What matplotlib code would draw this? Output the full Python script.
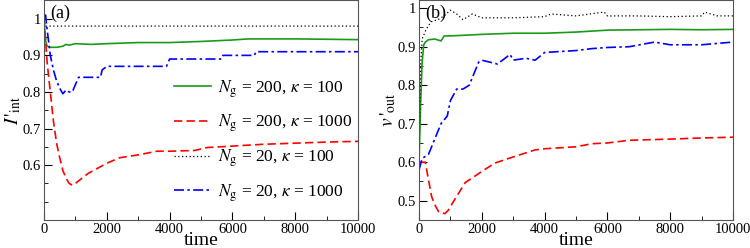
import matplotlib
matplotlib.use("Agg")
import matplotlib.pyplot as plt

plt.rcParams['font.family'] = ['Liberation Serif', 'DejaVu Serif']
plt.rcParams['mathtext.fontset'] = 'stix'

labels = [r"$N_{\rm g}$ = 200, $\kappa$ = 100",
          r"$N_{\rm g}$ = 200, $\kappa$ = 1000",
          r"$N_{\rm g}$ = 20, $\kappa$ = 100",
          r"$N_{\rm g}$ = 20, $\kappa$ = 1000"]

# panel (a): I'_int
a_t1 = [0, 50, 100, 200, 400, 600, 700, 800, 1000, 1500, 2000, 3000, 4000, 5000, 6000, 6500, 8000, 9000, 10000]
a_y1 = [1.0, 0.94, 0.925, 0.922, 0.922, 0.925, 0.93, 0.928, 0.932, 0.93, 0.932, 0.935, 0.935, 0.938, 0.942, 0.945, 0.945, 0.944, 0.943]

a_t2 = [0, 100, 200, 300, 400, 500, 600, 700, 800, 900, 1000, 1400, 2000, 2400, 3000, 3600, 4000, 4800, 5200, 6000, 7000, 8000, 9000, 10000]
a_y2 = [1.0, 0.88, 0.8, 0.72, 0.66, 0.62, 0.585, 0.565, 0.55, 0.545, 0.55, 0.577, 0.605, 0.62, 0.628, 0.638, 0.638, 0.64, 0.648, 0.652, 0.657, 0.66, 0.663, 0.665]

a_t3 = [0, 30, 60, 10000]
a_y3 = [1.0, 0.985, 0.98, 0.98]

a_t4 = [0, 50, 100, 200, 300, 400, 500, 600, 700, 800, 900, 1000, 1100, 1200, 1800, 1850, 2000, 3900, 3950, 4000,
        5650, 5700, 6700, 6750, 10000]
a_y4 = [1.01, 1.01, 0.97, 0.9, 0.86, 0.83, 0.81, 0.795, 0.805, 0.8, 0.8, 0.82, 0.84, 0.84, 0.84, 0.86, 0.87, 0.87, 0.88, 0.89,
        0.89, 0.9, 0.9, 0.91, 0.91]

# panel (b): v'_out
b_t1 = [0, 50, 100, 150, 200, 300, 500, 700, 800, 1000, 2000, 3000, 4000, 5000, 6000, 7000, 8000, 9000, 10000]
b_y1 = [0.6, 0.75, 0.86, 0.905, 0.912, 0.918, 0.92, 0.915, 0.928, 0.928, 0.932, 0.935, 0.935, 0.938, 0.943, 0.944, 0.945, 0.944, 0.945]

b_t2 = [0, 200, 300, 400, 500, 620, 700, 830, 930, 1000, 1470, 2000, 2420, 3050, 3700, 4000, 5000, 5500, 6000, 6700, 8000, 9000, 10000]
b_y2 = [0.6, 0.6, 0.555, 0.511, 0.49, 0.472, 0.468, 0.467, 0.475, 0.485, 0.547, 0.576, 0.598, 0.615, 0.632, 0.635, 0.64, 0.648, 0.65, 0.657, 0.66, 0.663, 0.665]

b_t3 = [0, 50, 100, 200, 300, 400, 600, 800, 1000, 1200, 1400, 1700, 2000, 3000, 4000, 4200, 5000, 5900, 6000, 7000, 8000, 9000, 9100, 9500, 10000]
b_y3 = [0.62, 0.85, 0.92, 0.94, 0.955, 0.965, 0.97, 0.98, 0.995, 0.985, 0.97, 0.985, 0.975, 0.975, 0.978, 0.985, 0.98, 0.99, 0.98, 0.98, 0.978, 0.98, 0.99, 0.98, 0.98]

b_t4 = [0, 100, 300, 400, 550, 700, 900, 1000, 1200, 1400, 1600, 1700, 1900, 2000, 2500, 2900, 3000, 3400, 3700, 4000, 5000, 5500, 6000, 6700, 7500, 8000, 9000, 10000]
b_y4 = [0.58, 0.61, 0.62, 0.64, 0.67, 0.7, 0.72, 0.76, 0.79, 0.79, 0.8, 0.82, 0.86, 0.865, 0.855, 0.88, 0.865, 0.87, 0.865, 0.885, 0.89, 0.895, 0.898, 0.9, 0.912, 0.905, 0.905, 0.912]

styles = [dict(color='#1a9a1a', ls='-', lw=1.2),
          dict(color='red', ls=(0, (5, 2.5)), lw=1.2),
          dict(color='black', ls=(0, (1, 2)), lw=0.9),
          dict(color='blue', ls=(0, (6, 2, 1.5, 2)), lw=1.2)]

fig = plt.figure(figsize=(7.5, 2.48), dpi=100)
ax1 = fig.add_axes([0.0587, 0.113, 0.4186, 0.885])
ax2 = fig.add_axes([0.5587, 0.113, 0.4186, 0.885])

for (t, y), st, lab in zip([(a_t1, a_y1), (a_t2, a_y2), (a_t3, a_y3), (a_t4, a_y4)], styles, labels):
    ax1.plot(t, y, label=lab, **st)
for (t, y), st in zip([(b_t1, b_y1), (b_t2, b_y2), (b_t3, b_y3), (b_t4, b_y4)], styles):
    ax2.plot(t, y, **st)

ax1.set_ylim(0.52, 1.05)
ax2.set_ylim(0.45, 1.02)
ax1.set_yticks([0.6, 0.7, 0.8, 0.9, 1.0], ['0.6', '0.7', '0.8', '0.9', '1'])
ax2.set_yticks([0.5, 0.6, 0.7, 0.8, 0.9, 1.0], ['0.5', '0.6', '0.7', '0.8', '0.9', '1'])
ax1.set_ylabel(r"$I\,'_{\rm int}$", fontsize=14, labelpad=0)
ax2.set_ylabel(r"$v\,'_{\rm out}$", fontsize=14, labelpad=0)

for ax, tag in [(ax1, '(a)'), (ax2, '(b)')]:
    ax.set_xlim(0, 10000)
    ax.set_xticks(range(0, 10001, 2000))
    ax.set_xticks(range(0, 10001, 1000), minor=True)
    ax.set_yticks([v / 100 for v in range(45, 105, 5)], minor=True)
    ax.tick_params(which='both', direction='in', labelsize=10.5, pad=2)
    ax.tick_params(which='major', length=6)
    ax.tick_params(which='minor', length=3)
    ax.set_xlabel('time', fontsize=14, labelpad=-3)
    for s in ax.spines.values():
        s.set_color('#555555')
    ax.text(0.02, 0.98, tag, transform=ax.transAxes, fontsize=13, va='top', ha='left')

ax1.legend(loc='center right', bbox_to_anchor=(1.0, 0.36), frameon=False, fontsize=12.5,
           handlelength=2.1, labelspacing=0.75, handletextpad=0.45, borderaxespad=0, borderpad=0.3)

fig.savefig('out.png', dpi=100)
